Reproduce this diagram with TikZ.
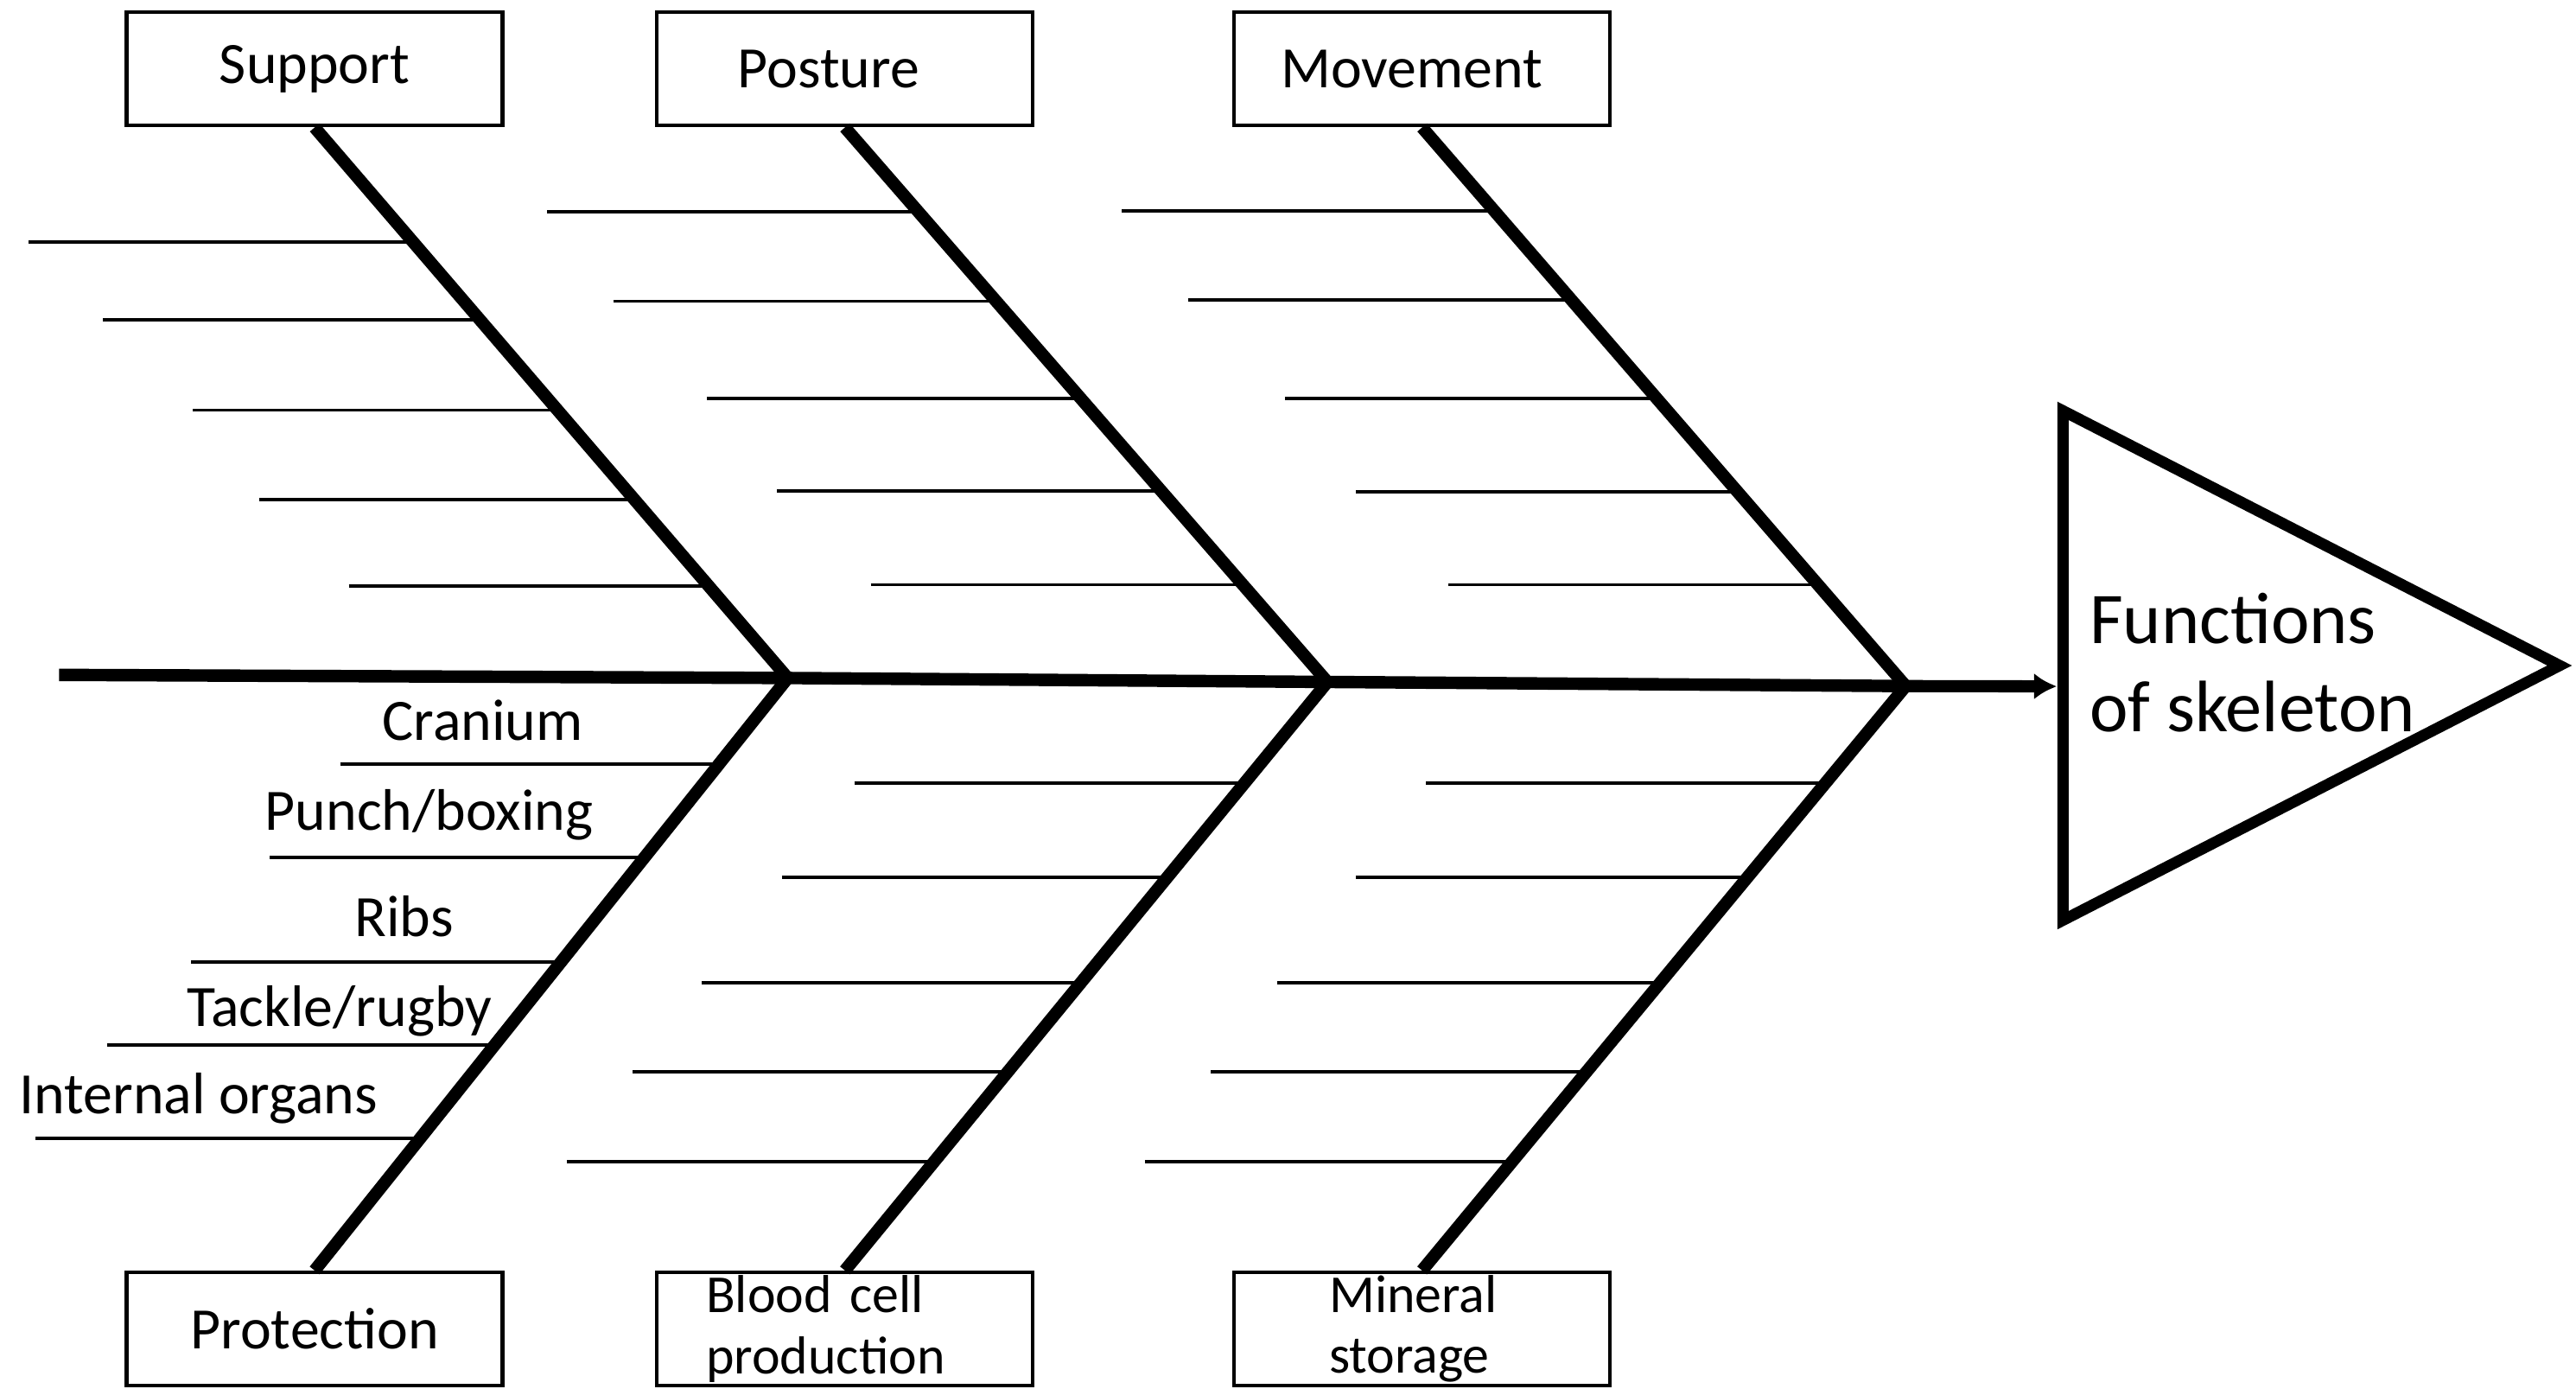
\documentclass[tikz,border=0pt]{standalone}
\usepackage{fontspec}
\setmainfont{Carlito}
\usetikzlibrary{arrows.meta, intersections}
\tikzset{catbox/.style={rectangle,
                        minimum width=4.35cm,
                        minimum height=1.31cm,
                        inner sep=0pt,
                        line width=1.2pt,
                        draw=black,
                        font=\fontsize{19.3}{20}\selectfont,
                       },
         ribtext/.style={inner sep=0pt,
                         anchor=base west,
                         font=\fontsize{19.3}{20}\selectfont,
                        },
         bone/.style={line width=4.1pt, line join=miter},
         rib/.style={line width=1.1pt},
         arrow/.style={line width=4pt, -{Latex[length=7.5pt,width=8.7pt]}},
         headline/.style={line width=3.7pt, line join=miter},
        }
\begin{document}
\begin{tikzpicture}[x=0.1901mm, y=-0.1901mm]
\useasboundingbox (0,0) rectangle (1568,845);

% categories above the spine
\node (sup) [catbox] at (191.5,42) {Support};
\node (pos) [catbox, align=left, text width=2.48cm, inner xsep=0.935cm] at (514.3,42) {Posture};
\node (mov) [catbox, align=left, text width=3.27cm, inner xsep=0.54cm] at (865.6,42) {Movement};

% categories below the spine
\node (prot) [catbox] at (191.5,808.7) {Protection};
\node (blood) [catbox, align=left, text width=3.21cm, inner xsep=0.57cm,
               font=\fontsize{17.6}{20}\selectfont] at (514.3,808.7) {Blood cell\\production};
\node (mineral) [catbox, align=left, text width=2.15cm, inner xsep=1.1cm,
                 font=\fontsize{17.6}{20}\selectfont] at (865.6,808.7) {Mineral\\storage};

% spine and head
\coordinate (tail) at (36,410.7);
\coordinate (j1) at (479.5,412.6);
\coordinate (j2) at (808,415);
\coordinate (j3) at (1160,417.5);
\coordinate (mouth) at (1252,417.7);
\coordinate (htop) at (1255.7,250);
\coordinate (htip) at (1558,405);
\coordinate (hbot) at (1255.7,560);
\draw [headline] (htop) -- (htip) -- (hbot) -- cycle;
\node (effect) [anchor=base west, align=left, inner sep=0pt, font=\fontsize{24}{29}\selectfont] at (1271.5,445.4) {Functions\\of skeleton};

\draw [bone] (tail) -- (j1) -- (j2) -- (j3);
\draw [arrow] (j3) -- (mouth);
\draw [bone, name path=b1] (sup.south) -- (j1) -- (prot.north);
\draw [bone, name path=b2] (pos.south) -- (j2) -- (blood.north);
\draw [bone, name path=b3] (mov.south) -- (j3) -- (mineral.north);

% ribs
\foreach \bone/\ribs in {b1/{17.4/147.1, 62.7/194.6, 117.4/249.6, 157.7/303.8, 212.3/356.4,
                             207/465, 164/522, 116.5/585.6, 65/636, 21.7/692.8},
                         b2/{333/128.8, 373.4/183.3, 430.4/242.4, 473/298.7, 530/355.8,
                             520/476.6, 476/533.8, 427/597.9, 385/652.4, 345/706.9},
                         b3/{682.8/128.2, 723/182.7, 782.4/242.4, 825.3/299.1, 881.7/355.8,
                             868/476.6, 825.3/533.8, 777.4/597.9, 737.1/652.4, 696.9/706.9}}
  \foreach \xr/\yr in \ribs {
    \path [name path=ribline] (\xr,\yr) -- ++(1600,0);
    \draw [rib, name intersections={of=ribline and \bone}] (\xr,\yr) -- (intersection-1);
  }

% rib labels
\node (cranium) [ribtext] at (232.5,450.6) {Cranium};
\node (punch) [ribtext] at (161,505) {Punch/boxing};
\node (ribs) [ribtext] at (215.5,569.8) {Ribs};
\node (tackle) [ribtext] at (113.5,624.4) {Tackle/rugby};
\node (organs) [ribtext] at (11.5,677.6) {Internal organs};

\end{tikzpicture}
\end{document}
